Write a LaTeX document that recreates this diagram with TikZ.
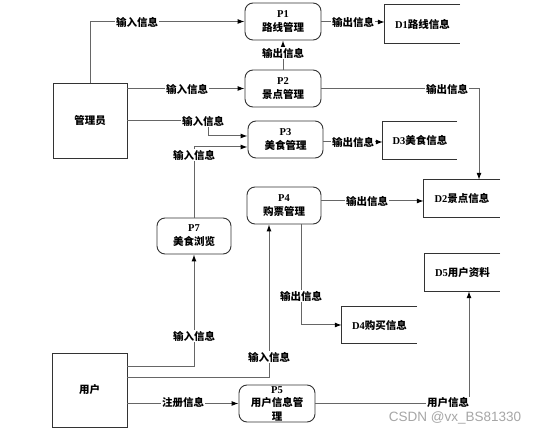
\documentclass[tikz,border=0pt]{standalone}
\usepackage{fontspec}
\setmainfont{Noto Sans CJK SC}
\newfontfamily\latf{Liberation Serif}
\newfontfamily\wmf{Liberation Sans}
\usetikzlibrary{arrows.meta}
\newcommand\lt[1]{{\latf\bfseries #1}}
\begin{document}
\begin{tikzpicture}[x=1pt,y=-1pt,
  font=\fontsize{10.5}{14}\selectfont\bfseries,
  proc/.style={draw=black!80, rounded corners=8pt, line width=0.9pt, minimum width=76pt, minimum height=37pt, align=center, inner sep=1pt},
  ent/.style={draw=black!80, line width=0.9pt, minimum width=74pt, minimum height=75pt},
  store/.style={minimum width=75pt, minimum height=37pt, inner sep=0pt},
  storeline/.style={draw=black!80, line width=0.9pt},
  flow/.style={draw=black!60, line width=1pt, -{Latex[length=7pt,width=5pt,color=black]}},
  lbl/.style={fill=white, inner sep=1pt}]
\useasboundingbox (0,0) rectangle (542,435);
\fill[white] (0,0) rectangle (542,435);

% entities
\node[ent] (mgr) at (90,120.5) {管理员};
\node[ent, minimum width=75pt, minimum height=74pt] (usr) at (89.5,390) {用户};

% processes
\node[proc] (P1) at (283,21.5) {\lt{P1}\\路线管理};
\node[proc] (P2) at (283,88.5) {\lt{P2}\\景点管理};
\node[proc, minimum width=75pt] (P3) at (285.5,139.5) {\lt{P3}\\美食管理};
\node[proc, minimum width=74pt] (P4) at (284,205.5) {\lt{P4}\\购票管理};
\node[proc, minimum width=74pt, minimum height=36pt] (P7) at (194,236) {\lt{P7}\\美食浏览};
\node[proc, text width=60pt, font=\fontsize{10.5}{13.5}\selectfont\bfseries] (P5) at (277,403.5) {\lt{P5}\\用户信息管\\理};

% stores
\node[store, minimum height=38pt] (D1) at (422.5,24) {\lt{D1}路线信息};
\node[store, minimum width=74pt] (D3) at (420,140.5) {\lt{D3}美食信息};
\node[store, minimum width=76pt] (D2) at (462,198.5) {\lt{D2}景点信息};
\node[store] (D5) at (462.5,272.5) {\lt{D5}用户资料};
\node[store, minimum height=36pt] (D4) at (379.5,325) {\lt{D4}购买信息};
\foreach \d in {D1,D2,D3,D4,D5}
  \draw[storeline] (\d.north east) -- (\d.north west) -- (\d.south west) -- (\d.south east);

% connectors
\draw[flow] (mgr.north) |- (P1.west);
\draw[flow] (mgr.east |- P2.west) -- (P2.west);
\draw[flow] (mgr.east) -- ++(81,0) |- ([yshift=3.5pt]P3.west);
\draw[flow] (P7.north) |- ([yshift=-7.5pt]P3.west);
\draw[flow] (P2.north) -- (P1.south);
\draw[flow] ([yshift=-0.5pt]P1.east) -- ([yshift=-0.5pt]P1.east -| D1.west);
\draw[flow] (P2.east) -| ([xshift=17pt]D2.north);
\draw[flow] ([yshift=-2.5pt]P3.east) -- ([yshift=-2.5pt]P3.east -| D3.west);
\draw[flow] ([yshift=4.5pt]P4.east) -- ([yshift=4.5pt]P4.east -| D2.west);
\draw[flow] ([xshift=17pt]P4.south) |- (D4.west);
\draw[flow] ([yshift=23pt]usr.east) -| (P7.south);
\draw[flow] ([yshift=12pt]usr.east) -| ([xshift=-15pt]P4.south);
\draw[flow] (P5.west -| usr.east) -- (P5.west);
\draw[flow] (P5.east) -| ([xshift=6.5pt]D5.south);

% labels
\node[lbl] (l1) at (137,22) {输入信息};
\node[lbl] (l2) at (187,89) {输入信息};
\node[lbl] (l3) at (203,121) {输入信息};
\node[lbl] (l4) at (194,155) {输入信息};
\node[lbl] (l5) at (283,53) {输出信息};
\node[lbl] (l6) at (353,22) {输出信息};
\node[lbl] (l7) at (447,89) {输出信息};
\node[lbl] (l8) at (353,142) {输出信息};
\node[lbl] (l9) at (367,201) {输出信息};
\node[lbl] (l10) at (301,296) {输出信息};
\node[lbl] (l11) at (194,336) {输入信息};
\node[lbl] (l12) at (269,357) {输入信息};
\node[lbl] (l13) at (183,403) {注册信息};
\node[lbl] (l14) at (448,403) {用户信息};

% watermark
\node[text=black!35, font=\wmf\fontsize{13.5}{15}\selectfont, inner sep=0pt] (wm) at (455,418) {CSDN @vx\_BS81330};
\end{tikzpicture}
\end{document}
